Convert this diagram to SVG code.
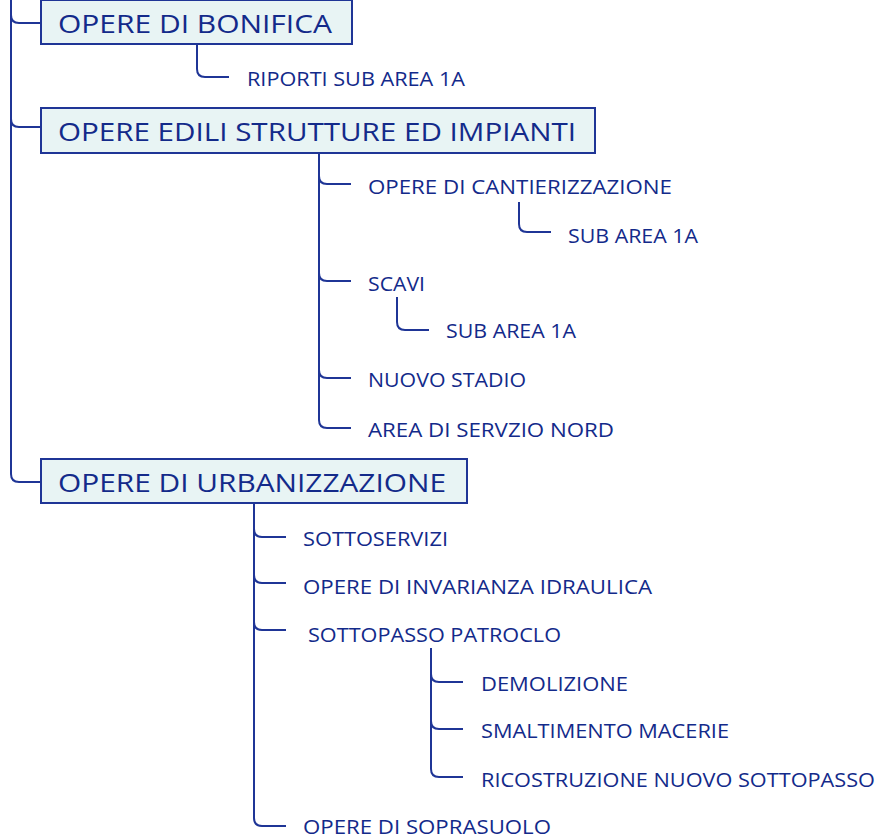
<svg xmlns="http://www.w3.org/2000/svg" width="879" height="839" viewBox="0 0 879 839">
<style>
.c{fill:none;stroke:#1f3596;stroke-width:2}
.box{fill:#e8f4f4;stroke:#1f3596;stroke-width:2}
.t{font-family:"Open Sans","Liberation Sans",sans-serif;fill:#132a8a}
.big{font-size:26px}
.sm{font-size:20px}
</style>
<rect width="879" height="839" fill="#ffffff"/>
<g id="connectors">
<path class="c" d="M11 0 V474 Q11 482 19 482 H41"/>
<path class="c" d="M11 15 Q11 23 19 23 H41"/>
<path class="c" d="M11 119 Q11 127 19 127 H41"/>
<path class="c" d="M197 44 V69 Q197 77 205 77 H229"/>
<path class="c" d="M319 153 V420 Q319 428 327 428 H351"/>
<path class="c" d="M319 176 Q319 184 327 184 H351"/>
<path class="c" d="M319 273 Q319 281 327 281 H351"/>
<path class="c" d="M319 370 Q319 378 327 378 H351"/>
<path class="c" d="M519 202 V224 Q519 232 527 232 H551"/>
<path class="c" d="M397 297 V322 Q397 330 405 330 H429"/>
<path class="c" d="M254 503 V818 Q254 826 262 826 H286"/>
<path class="c" d="M254 529 Q254 537 262 537 H286"/>
<path class="c" d="M254 575 Q254 583 262 583 H286"/>
<path class="c" d="M254 622 Q254 630 262 630 H286"/>
<path class="c" d="M431 648 V769 Q431 777 439 777 H463"/>
<path class="c" d="M431 674 Q431 682 439 682 H463"/>
<path class="c" d="M431 721 Q431 729 439 729 H463"/>
</g>
<g id="n-bonifica">
<rect class="box" x="41" y="0" width="311" height="44"/>
<text class="t big" x="58" y="33" textLength="274" lengthAdjust="spacingAndGlyphs">OPERE DI BONIFICA</text>
</g>
<g id="n-riporti">
<text class="t sm" x="247" y="86" textLength="218" lengthAdjust="spacingAndGlyphs">RIPORTI SUB AREA 1A</text>
</g>
<g id="n-edili">
<rect class="box" x="41" y="108" width="554" height="45"/>
<text class="t big" x="58" y="141" textLength="518" lengthAdjust="spacingAndGlyphs">OPERE EDILI STRUTTURE ED IMPIANTI</text>
</g>
<g id="n-cantierizzazione">
<text class="t sm" x="368" y="194" textLength="304" lengthAdjust="spacingAndGlyphs">OPERE DI CANTIERIZZAZIONE</text>
</g>
<g id="n-cant-sub">
<text class="t sm" x="568" y="243" textLength="130" lengthAdjust="spacingAndGlyphs">SUB AREA 1A</text>
</g>
<g id="n-scavi">
<text class="t sm" x="368" y="291" textLength="57" lengthAdjust="spacingAndGlyphs">SCAVI</text>
</g>
<g id="n-scavi-sub">
<text class="t sm" x="446" y="338" textLength="130" lengthAdjust="spacingAndGlyphs">SUB AREA 1A</text>
</g>
<g id="n-stadio">
<text class="t sm" x="368" y="387" textLength="158" lengthAdjust="spacingAndGlyphs">NUOVO STADIO</text>
</g>
<g id="n-area-nord">
<text class="t sm" x="368" y="437" textLength="246" lengthAdjust="spacingAndGlyphs">AREA DI SERVZIO NORD</text>
</g>
<g id="n-urbanizzazione">
<rect class="box" x="41" y="459" width="426" height="44"/>
<text class="t big" x="58" y="492" textLength="388" lengthAdjust="spacingAndGlyphs">OPERE DI URBANIZZAZIONE</text>
</g>
<g id="n-sottoservizi">
<text class="t sm" x="303" y="546" textLength="145" lengthAdjust="spacingAndGlyphs">SOTTOSERVIZI</text>
</g>
<g id="n-invarianza">
<text class="t sm" x="303" y="594" textLength="349" lengthAdjust="spacingAndGlyphs">OPERE DI INVARIANZA IDRAULICA</text>
</g>
<g id="n-sottopasso">
<text class="t sm" x="308" y="642" textLength="253" lengthAdjust="spacingAndGlyphs">SOTTOPASSO PATROCLO</text>
</g>
<g id="n-demolizione">
<text class="t sm" x="481" y="691" textLength="147" lengthAdjust="spacingAndGlyphs">DEMOLIZIONE</text>
</g>
<g id="n-smaltimento">
<text class="t sm" x="481" y="738" textLength="248" lengthAdjust="spacingAndGlyphs">SMALTIMENTO MACERIE</text>
</g>
<g id="n-ricostruzione">
<text class="t sm" x="481" y="787" textLength="394" lengthAdjust="spacingAndGlyphs">RICOSTRUZIONE NUOVO SOTTOPASSO</text>
</g>
<g id="n-soprasuolo">
<text class="t sm" x="303" y="834" textLength="248" lengthAdjust="spacingAndGlyphs">OPERE DI SOPRASUOLO</text>
</g>
</svg>
